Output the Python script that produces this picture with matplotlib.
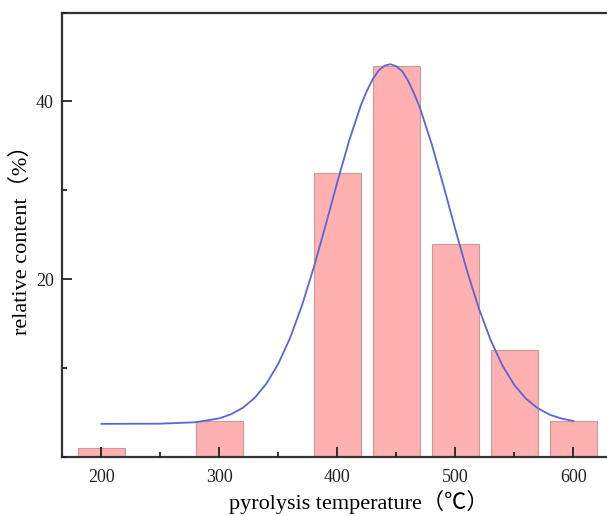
import numpy as np
import matplotlib
matplotlib.use('agg')
import matplotlib.pyplot as plt
from matplotlib.ticker import MultipleLocator

# bar data
temps = [200, 300, 400, 450, 500, 550, 600]
content = [1, 4, 32, 44, 24, 12, 4]

# fitted curve
curve_x = [200, 250, 280, 300, 310, 320, 330, 340, 350, 360, 370, 380, 390,
           400, 410, 420, 425, 430, 435, 440, 445, 450, 455, 460, 465, 470,
           480, 490, 500, 510, 520, 530, 540, 550, 560, 570, 580, 590, 600]
curve_y = [3.7, 3.72, 3.88, 4.32, 4.79, 5.52, 6.64, 8.26, 10.49, 13.41, 17.05,
           21.33, 26.06, 30.96, 35.62, 39.62, 41.2, 42.53, 43.5, 44.04, 44.2,
           43.96, 43.4, 42.3, 40.9, 39.26, 35.17, 30.47, 25.57, 20.87, 16.66,
           13.09, 10.24, 8.07, 6.51, 5.44, 4.73, 4.29, 4.02]

fonts = ['Liberation Serif', 'Noto Sans CJK SC', 'DejaVu Sans']
plt.rcParams['font.family'] = fonts

fig = plt.figure(figsize=(6.07, 5.16), dpi=100)
ax = fig.add_axes([62.3/607, 1 - 456.7/516, 0.978, (456.7 - 12.7)/516])

ax.bar(temps, content, width=40, color='#ffb0b0', edgecolor='#c99a9a', linewidth=0.8, zorder=2)
ax.plot(curve_x, curve_y, color='#5a66d6', linewidth=1.3, zorder=3)
ax.set_axisbelow(False)

ax.set_xlim(166.8, 670)
ax.set_ylim(0, 50)
ax.xaxis.set_major_locator(MultipleLocator(100))
ax.xaxis.set_minor_locator(MultipleLocator(50))
ax.yaxis.set_minor_locator(MultipleLocator(10))
ax.set_yticks([20, 40])

ax.tick_params(which='both', direction='in', width=1.3, labelsize=13, colors='#222222')
ax.tick_params(which='major', length=7)
ax.tick_params(which='minor', length=3.5)
ax.tick_params(axis='y', pad=6)
ax.tick_params(axis='x', pad=9)

for s in ax.spines.values():
    s.set_linewidth(1.6)
    s.set_color('#333333')
ax.spines['right'].set_visible(False)

ax.set_xlabel('pyrolysis temperature（℃）', fontsize=16, labelpad=3)
ax.set_ylabel('relative content（%）', fontsize=16, labelpad=3)

fig.savefig('out.png', dpi=100)
